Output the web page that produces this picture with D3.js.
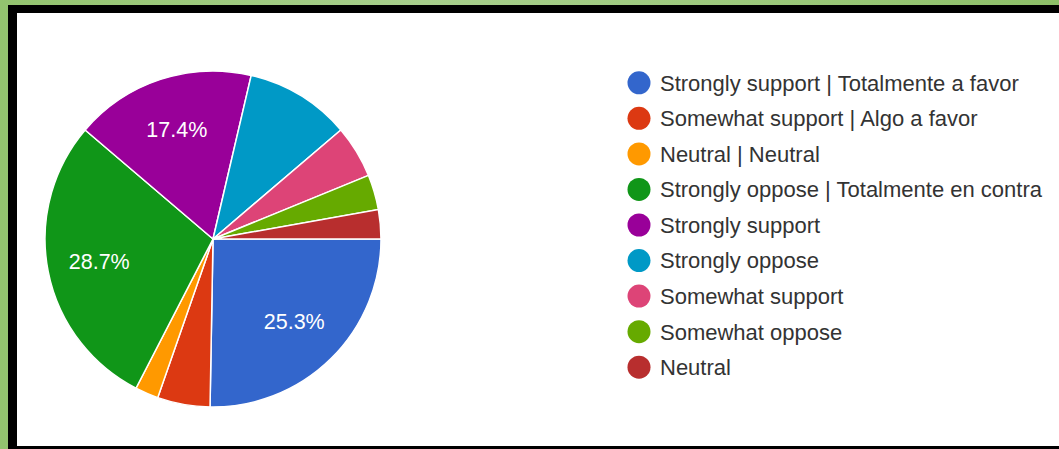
<!DOCTYPE html>
<html>
<head>
<meta charset="utf-8">
<script src="https://cdn.jsdelivr.net/npm/d3@7"></script>
<style>
	html, body { margin: 0; padding: 0; overflow: hidden; }
	body { width: 1059px; height: 449px; background: linear-gradient(90deg, #93c46f 0%, #a7cf8c 40%, #9cc97c 70%, #8dbf68 100%); }
	#frame { position: absolute; left: 8px; top: 5px; width: 1051px; height: 444px; background: #000; }
	#chart { position: absolute; left: 17px; top: 13px; width: 1042px; height: 433px; background: #fff; }
</style>
</head>
<body>
<div id="frame"></div>
<div id="chart"></div>
<script>
// response counts (178 answers)
var categories = ['Strongly support | Totalmente a favor', 'Somewhat support | Algo a favor', 'Neutral | Neutral', 'Strongly oppose | Totalmente en contra', 'Strongly support', 'Strongly oppose', 'Somewhat support', 'Somewhat oppose', 'Neutral'];
var counts = [45, 9, 4, 51, 31, 18, 9, 6, 5];
var colors = ['#3366cc', '#dc3912', '#ff9900', '#109618', '#990099', '#0099c6', '#dd4477', '#66aa00', '#b82e2e'];

var width = 1042;
var height = 433;
var cx = 196, cy = 226;
var radius = 168;
var labelMin = 0.15; // only big slices get a percent label

var data = categories.map(function(c, i) {
	return {name: c, value: counts[i], color: colors[i]};
});
var total = d3.sum(counts);

var svg = d3.select("#chart").append("svg")
	.attr("width", width)
	.attr("height", height);

/* Pie */
var pie = d3.pie()
	.value(d => d.value)
	.sort(null)
	.startAngle(Math.PI / 2)
	.endAngle(Math.PI / 2 + 2 * Math.PI);

var arc = d3.arc().innerRadius(0).outerRadius(radius);
var labelArc = d3.arc().innerRadius(radius * 0.69).outerRadius(radius * 0.69);

var g = svg.append("g")
	.attr("transform", `translate(${cx}, ${cy})`);

g.selectAll("path.slice")
	.data(pie(data)).enter()
	.append("path")
	.attr("class", "slice")
	.attr("d", arc)
	.style("fill", d => d.data.color)
	.style("stroke", "#fff")
	.style("stroke-width", "1.5px");

g.selectAll("text.pct")
	.data(pie(data).filter(d => d.data.value / total > labelMin)).enter()
	.append("text")
	.attr("class", "pct")
	.attr("transform", d => `translate(${labelArc.centroid(d)})`)
	.attr("text-anchor", "middle")
	.attr("dy", "0.36em")
	.style("font-family", "'Liberation Sans', Arial, sans-serif")
	.style("font-size", "21.5px")
	.style("fill", "#fff")
	.text(d => (d.data.value / total * 100).toFixed(1) + "%");

/* Legend */
var legendY = d3.scaleBand()
	.domain(categories)
	.range([52, 372]);

var legend = svg.append("g").attr("class", "legend");

var item = legend.selectAll("g.item")
	.data(data).enter()
	.append("g")
	.attr("class", "item")
	.attr("transform", d => `translate(0, ${legendY(d.name) + legendY.bandwidth() / 2})`);

item.append("circle")
	.attr("cx", 622)
	.attr("cy", 0)
	.attr("r", 11.5)
	.style("fill", d => d.color);

item.append("text")
	.attr("x", 643)
	.attr("dy", "0.36em")
	.style("font-family", "'Liberation Sans', Arial, sans-serif")
	.style("font-size", "22px")
	.style("fill", "#333")
	.text(d => d.name);
</script>
</body>
</html>
